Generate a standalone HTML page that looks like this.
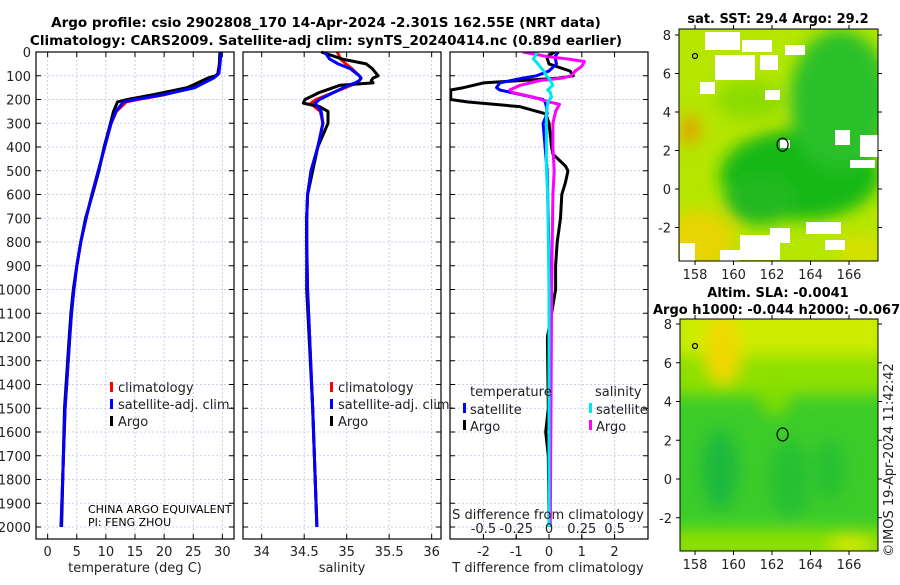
<!DOCTYPE html>
<html><head><meta charset="utf-8">
<style>
body{margin:0;background:#fff;width:900px;height:580px;overflow:hidden;font-family:"Liberation Sans","DejaVu Sans",sans-serif;}
svg text{font-family:"DejaVu Sans","Liberation Sans",sans-serif;}
</style></head>
<body>
<svg id="fig" width="900" height="580" viewBox="0 0 900 580" xmlns="http://www.w3.org/2000/svg">
<defs>
<filter id="blur6" x="-50%" y="-50%" width="200%" height="200%"><feGaussianBlur stdDeviation="8"/></filter>
<filter id="blur3"><feGaussianBlur stdDeviation="3"/></filter>
<clipPath id="clipM1"><rect x="679" y="29" width="199" height="232"/></clipPath>
<clipPath id="clipM2"><rect x="680" y="319" width="198" height="232"/></clipPath>
<clipPath id="clipP3"><rect x="450" y="52" width="198" height="487"/></clipPath>
</defs>
<g font-weight="bold" font-size="13.5" text-anchor="middle" fill="#000">
<text x="326" y="27">Argo profile: csio 2902808_170 14-Apr-2024 -2.301S 162.55E (NRT data)</text>
<text x="326" y="45">Climatology: CARS2009. Satellite-adj clim: synTS_20240414.nc (0.89d earlier)</text>
</g>
<g id="panels"></g>
<g id="maps"></g>
</svg>
<script>
// ---------- data ----------
const depthTicks = [0,100,200,300,400,500,600,700,800,900,1000,1100,1200,1300,1400,1500,1600,1700,1800,1900,2000];
const tempTicks = [0,5,10,15,20,25,30];
const salTicks = [34,34.5,35,35.5,36];
const salTickLabels = ["34","34.5","35","35.5","36"];
const tdiffTicks = [-2,-1,0,1,2];
const sdiffTicks = [-0.5,-0.25,0,0.25,0.5];
const sdiffTickLabels = ["-0.5","-0.25","0","0.25","0.5"];

const depthsT = [0,50,90,100,110,150,180,200,210,250,300,400,500,600,700,800,900,1000,1100,1200,1500,2000];
const tempArgo = [29.6,29.5,29.3,28.8,27.5,24,18,13.7,12,11.3,10.8,9.7,8.8,7.7,6.5,5.7,5,4.4,4.0,3.7,2.9,2.4];
const tempClim = [29.6,29.5,29.2,28.9,28.3,25,20,15.5,13.5,11.8,10.9,9.8,8.7,7.6,6.6,5.7,5.0,4.5,4.1,3.8,3.0,2.3];
const tempSat  = [29.8,29.6,29.4,29.0,28.5,25.3,19.8,15,13,11.7,10.9,9.8,8.7,7.6,6.6,5.7,5.0,4.5,4.1,3.8,3.0,2.3];

const depthsS = [0,30,50,70,100,110,120,130,140,170,200,215,230,250,300,400,500,600,700,800,1000,1500,2000];
const salArgo = [34.70,34.95,35.23,35.30,35.37,35.31,35.29,35.31,34.92,34.68,34.51,34.49,34.68,34.78,34.78,34.66,34.60,34.54,34.53,34.53,34.53,34.60,34.65];
const salClim = [34.89,34.93,34.99,35.06,35.15,35.17,35.15,35.12,35.05,34.85,34.64,34.58,34.62,34.69,34.72,34.66,34.58,34.54,34.53,34.53,34.54,34.60,34.65];
const salSat  = [34.74,34.80,34.90,35.04,35.15,35.17,35.15,35.10,35.02,34.85,34.68,34.63,34.66,34.70,34.72,34.66,34.58,34.54,34.53,34.53,34.54,34.60,34.65];

const depthsTd = [0,20,50,80,100,110,130,150,160,200,210,230,260,300,400,430,480,500,550,600,700,800,900,1000,1100,1200,1500,1600,1700,2000];
const tdiffArgo = [0.18,-0.07,0,0.64,0.74,0.3,-2.0,-2.6,-3.0,-3.0,-2.5,-0.9,-0.1,0,0.08,0.12,0.5,0.58,0.5,0.39,0.35,0.25,0.2,0.2,0.08,-0.05,-0.02,-0.1,-0.02,0];
const tdiffSat  = [0.28,0.18,0.23,0,-0.38,-0.8,-1.5,-1.6,-1.5,-0.18,-0.12,-0.08,-0.06,-0.18,-0.12,-0.1,-0.07,-0.06,-0.05,-0.04,-0.02,-0.01,0,0,0,0,0,0,0,0];

const depthsSd = [0,20,30,40,60,80,100,110,120,140,160,170,190,210,220,250,300,400,500,600,1000,1500,2000];
const sdiffArgo = [-0.2,0.0,0.15,0.27,0.25,0.2,0.17,0.1,-0.07,-0.22,-0.3,-0.28,-0.12,0,0.08,0.05,0.03,0.03,0.04,0.03,0.02,0.015,0.01];
const sdiffSat  = [-0.09,-0.11,-0.12,-0.1,-0.07,-0.04,-0.02,0,0.01,0.03,-0.01,0.01,0.02,-0.01,-0.01,-0.02,-0.02,-0.02,-0.02,-0.01,0,0,0];

// ---------- helpers ----------
const NS="http://www.w3.org/2000/svg";
function mk(tag,attrs,parent){const e=document.createElementNS(NS,tag);for(const k in attrs)e.setAttribute(k,attrs[k]);(parent||document.getElementById('panels')).appendChild(e);return e;}
const Y0=52, YB=539;
const yD = d => Y0 + d*0.2375;
function lin(d0,d1,r0,r1){return v=>r0+(v-d0)*(r1-r0)/(d1-d0);}

function panel(name,L,R,xs,ticks,labels,xlabel){
  const g=mk('g',{});
  
  
  // grid
  ticks.forEach(t=>{mk('line',{x1:xs(t),x2:xs(t),y1:Y0,y2:YB,stroke:'#b8c4e8','stroke-width':0.8,'stroke-dasharray':'2,2'},g);});
  depthTicks.forEach(d=>{mk('line',{x1:L,x2:R,y1:yD(d),y2:yD(d),stroke:'#b8c4e8','stroke-width':0.8,'stroke-dasharray':'2,2'},g);});
  return g;
}
function frame(g,L,R,xs,ticks){
  mk('rect',{x:L,y:Y0,width:R-L,height:YB-Y0,fill:'none',stroke:'#000','stroke-width':1.2},g);
  ticks.forEach(t=>{const x=xs(t);mk('line',{x1:x,x2:x,y1:YB,y2:YB-5,stroke:'#000'},g);mk('line',{x1:x,x2:x,y1:Y0,y2:Y0+5,stroke:'#000'},g);});
  depthTicks.forEach(d=>{mk('line',{x1:L,x2:L+5,y1:yD(d),y2:yD(d),stroke:'#000'},g);mk('line',{x1:R,x2:R-5,y1:yD(d),y2:yD(d),stroke:'#000'},g);});
}
function series(g,name,xs,vals,depths,color,w){
  const pts=vals.map((v,i)=>xs(v).toFixed(1)+','+yD(depths[i]).toFixed(1)).join(' ');
  const p=mk('polyline',{points:pts,fill:'none',stroke:color,'stroke-width':w,'stroke-linejoin':'round'},g);
  
  
  return p;
}
function txt(g,x,y,s,o){const t=mk('text',Object.assign({x:x,y:y,'font-size':13,fill:'#222'},o||{}),g);t.textContent=s;return t;}

// ---------- panel 1 temperature ----------
const xT=lin(-2,32,36,234);
const g1=panel('temperature-panel',36,234,xT,tempTicks);
series(g1,'temp-climatology-line',xT,tempClim,depthsT,'#ff0000',3);
series(g1,'temp-argo-line',xT,tempArgo,depthsT,'#000',3);
series(g1,'temp-satellite-line',xT,tempSat,depthsT,'#0000ff',3);
frame(g1,36,234,xT,tempTicks);
depthTicks.forEach(d=>{const t=txt(g1,31,yD(d)+5,String(d),{'text-anchor':'end'});});
tempTicks.forEach(t=>{txt(g1,xT(t),556,String(t),{'text-anchor':'middle'});});
txt(g1,135,572,'temperature (deg C)',{'text-anchor':'middle'});
[['climatology','#ff0000',391],['satellite-adj. clim.','#0000ff',408],['Argo','#000',425]].forEach(a=>{
  mk('rect',{x:110,y:a[2]-9,width:3,height:10,fill:a[1]},g1);
  const t=txt(g1,118,a[2]+1,a[0]);
  
});
txt(g1,88,513,'CHINA ARGO EQUIVALENT',{'font-size':11,fill:'#000'});
txt(g1,88,526,'PI: FENG ZHOU',{'font-size':11,fill:'#000'});

// ---------- panel 2 salinity ----------
const xS=lin(33.78,36.11,243,441);
const g2=panel('salinity-panel',243,441,xS,salTicks);
series(g2,'sal-climatology-line',xS,salClim,depthsS,'#ff0000',3);
series(g2,'sal-argo-line',xS,salArgo,depthsS,'#000',3);
series(g2,'sal-satellite-line',xS,salSat,depthsS,'#0000ff',3);
frame(g2,243,441,xS,salTicks);
salTicks.forEach((t,i)=>{txt(g2,xS(t),556,salTickLabels[i],{'text-anchor':'middle'});});
txt(g2,342,572,'salinity',{'text-anchor':'middle'});
[['climatology','#ff0000',391],['satellite-adj. clim.','#0000ff',408],['Argo','#000',425]].forEach(a=>{
  mk('rect',{x:330,y:a[2]-9,width:3,height:10,fill:a[1]},g2);
  const t=txt(g2,338,a[2]+1,a[0]);
  
});

// ---------- panel 3 differences ----------
const xTd=lin(-3.02,3.02,450,648);
const xSd=lin(-0.755,0.755,450,648);
const g3=panel('difference-panel',450,648,xTd,tdiffTicks);
const g3c=mk('g',{'clip-path':'url(#clipP3)'},g3);
series(g3c,'tdiff-argo-line',xTd,tdiffArgo,depthsTd,'#000',3);
series(g3c,'tdiff-satellite-line',xTd,tdiffSat,depthsTd,'#0000ff',3);
series(g3c,'sdiff-argo-line',xSd,sdiffArgo,depthsSd,'#ff00ff',3);
series(g3c,'sdiff-satellite-line',xSd,sdiffSat,depthsSd,'#00e5ee',3);
frame(g3,450,648,xTd,tdiffTicks);
sdiffTicks.forEach(t=>{mk('line',{x1:xSd(t),x2:xSd(t),y1:YB,y2:YB-4,stroke:'#000'},g3);});
tdiffTicks.forEach(t=>{txt(g3,xTd(t),556,String(t),{'text-anchor':'middle'});});
sdiffTicks.forEach((t,i)=>{txt(g3,xSd(t),533,sdiffTickLabels[i],{'text-anchor':'middle'});});
txt(g3,548,519,'S difference from climatology',{'text-anchor':'middle'});
txt(g3,548,572,'T difference from climatology',{'text-anchor':'middle'});
txt(g3,470,396,'temperature');
txt(g3,595,396,'salinity');
[['satellite','#0000ff',463,413],['Argo','#000',463,430],['satellite','#00e5ee',589,413],['Argo','#ff00ff',589,430]].forEach(a=>{
  mk('rect',{x:a[2],y:a[3]-10,width:3,height:10,fill:a[1]},g3);
  const t=txt(g3,a[2]+7,a[3]+1,a[0]);
  
});

// ---------- maps ----------
const lonTicks=[158,160,162,164,166];
const latTicks=[-2,0,2,4,6,8];
const mapsG=document.getElementById('maps');
function mapAxes(g,L,T,R,B,xl,yl){
  mk('rect',{x:L,y:T,width:R-L,height:B-T,fill:'none',stroke:'#000','stroke-width':1},g);
  lonTicks.forEach(v=>{const x=xl(v);mk('line',{x1:x,x2:x,y1:B,y2:B+4,stroke:'#000'},g);mk('line',{x1:x,x2:x,y1:T,y2:T-4,stroke:'#000'},g);txt(g,x,B+18,String(v),{'text-anchor':'middle'});});
  latTicks.forEach(v=>{const y=yl(v);mk('line',{x1:L,x2:L-4,y1:y,y2:y,stroke:'#000'},g);mk('line',{x1:R,x2:R+4,y1:y,y2:y,stroke:'#000'},g);txt(g,L-8,y+5,String(v),{'text-anchor':'end'});});
}
// map 1 SST
const m1=mk('g',{},mapsG);

const x1=lin(158,166,695,849), y1=lin(0,8,189,35);
const c1=mk('g',{'clip-path':'url(#clipM1)'},m1);
mk('rect',{x:679,y:29,width:199,height:232,fill:'#b4e600'},c1);
const b1=mk('g',{filter:'url(#blur6)'},c1);
mk('ellipse',{cx:800,cy:175,rx:80,ry:45,fill:'#14b814'},b1);
mk('ellipse',{cx:840,cy:100,rx:50,ry:70,fill:'#2cc02c'},b1);
mk('ellipse',{cx:760,cy:200,rx:35,ry:25,fill:'#20b820'},b1);
mk('ellipse',{cx:700,cy:240,rx:35,ry:30,fill:'#e8d400'},b1);
mk('ellipse',{cx:690,cy:130,rx:10,ry:15,fill:'#e8a000'},b1);
mk('ellipse',{cx:860,cy:250,rx:25,ry:15,fill:'#d8e000'},b1);
mk('ellipse',{cx:750,cy:100,rx:35,ry:20,fill:'#8cdc00'},b1);
[[705,32,35,18],[742,40,30,12],[715,55,40,25],[760,55,18,15],[700,82,15,12],[860,135,18,22],[835,130,15,15],[740,235,40,25],[806,222,35,12],[770,228,20,15],[680,243,15,20],[720,250,20,11],[825,240,20,10],[785,45,20,10],[850,160,25,8],[765,90,15,10],[780,140,10,8]].forEach(r=>{mk('rect',{x:r[0],y:r[1],width:r[2],height:r[3],fill:'#fff'},c1);});
mk('ellipse',{cx:x1(162.55),cy:y1(2.3),rx:5.5,ry:6.5,fill:'none',stroke:'#000','stroke-width':1.2},m1);
mk('circle',{cx:695,cy:56,r:2.5,fill:'none',stroke:'#000','stroke-width':1.2},m1);
mapAxes(m1,679,29,878,261,x1,y1);
txt(m1,778,23,'sat. SST: 29.4 Argo: 29.2',{'text-anchor':'middle','font-weight':'bold',fill:'#000'});
// map 2 SLA
const m2=mk('g',{},mapsG);

const x2=lin(158,166,695,849), y2=lin(0,8,479,324);
const c2=mk('g',{'clip-path':'url(#clipM2)'},m2);
mk('rect',{x:680,y:319,width:198,height:232,fill:'#3ccc2a'},c2);
const b2=mk('g',{filter:'url(#blur6)'},c2);
mk('rect',{x:670,y:300,width:220,height:60,fill:'#ccec00'},b2);
mk('rect',{x:670,y:355,width:220,height:40,fill:'#8ee000'},b2);
mk('ellipse',{cx:723,cy:350,rx:18,ry:35,fill:'#f0d800'},b2);
mk('ellipse',{cx:720,cy:470,rx:18,ry:40,fill:'#1cb83c'},b2);
mk('ellipse',{cx:790,cy:480,rx:20,ry:40,fill:'#28c030'},b2);
mk('ellipse',{cx:830,cy:470,rx:15,ry:30,fill:'#28c030'},b2);
mk('ellipse',{cx:775,cy:400,rx:15,ry:15,fill:'#80dc00'},b2);
mk('rect',{x:670,y:530,width:220,height:30,fill:'#90e000'},b2);
mk('ellipse',{cx:850,cy:545,rx:20,ry:10,fill:'#d8e800'},b2);
mk('ellipse',{cx:x2(162.55),cy:y2(2.3),rx:5.5,ry:6.5,fill:'none',stroke:'#000','stroke-width':1.2},m2);
mk('circle',{cx:695,cy:346,r:2.5,fill:'none',stroke:'#000','stroke-width':1.2},m2);
mapAxes(m2,680,319,878,551,x2,y2);
txt(m2,778,297,'Altim. SLA: -0.0041',{'text-anchor':'middle','font-weight':'bold',fill:'#000'});
txt(m2,653,314,'Argo h1000: -0.044 h2000: -0.067',{'font-weight':'bold',fill:'#000'});
const cr=txt(m2,0,0,'©IMOS 19-Apr-2024 11:42:42',{'text-anchor':'middle',transform:'translate(893,460) rotate(-90)'});

</script>
</body></html>
